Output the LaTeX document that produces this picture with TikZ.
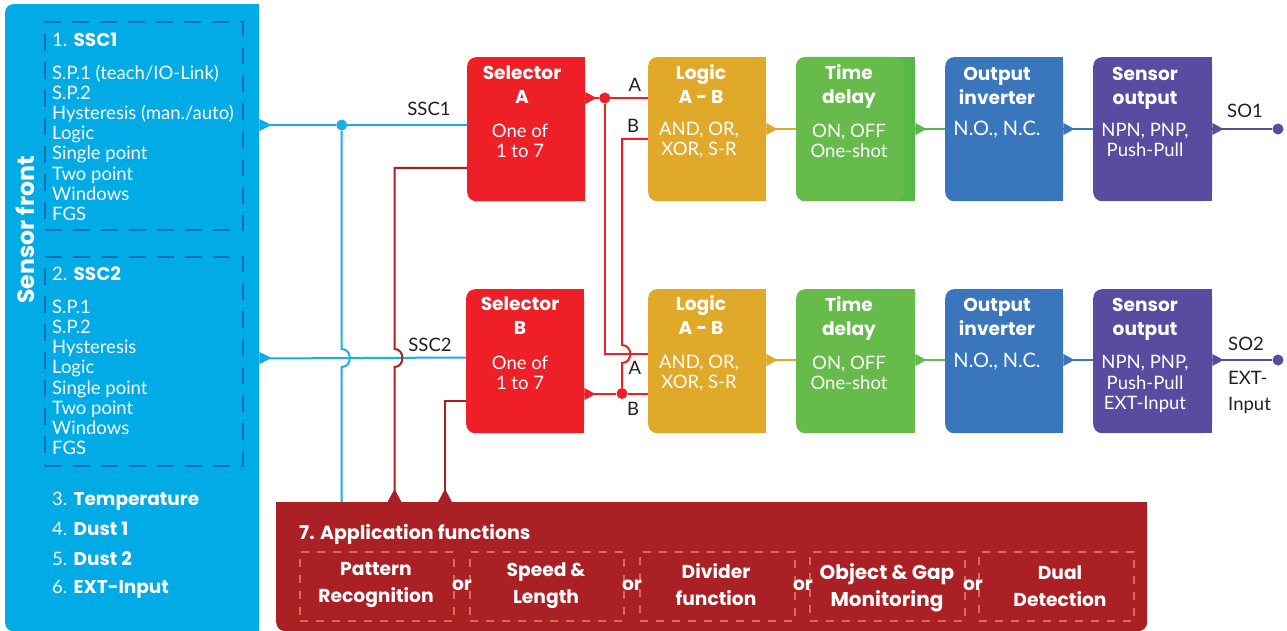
\documentclass[tikz,border=0pt]{standalone}
\usepackage{fontspec}
\usetikzlibrary{calc}
\setmainfont{Lato}
\newfontfamily\hfont{Poppins}
\definecolor{cSky}{HTML}{00ABE6}
\definecolor{cSkyLine}{HTML}{1AAFE6}
\definecolor{cSkyDash}{HTML}{0B6FB8}
\definecolor{cRed}{HTML}{EE1F26}
\definecolor{cGold}{HTML}{E0A929}
\definecolor{cGreen}{HTML}{66BB4A}
\definecolor{cGreenD}{HTML}{56B947}
\definecolor{cBlue}{HTML}{3A76BC}
\definecolor{cPurple}{HTML}{594CA0}
\definecolor{cBrick}{HTML}{AA2024}
\definecolor{cBrickDash}{HTML}{DE6B4C}
\definecolor{cInk}{HTML}{231F20}
\newcommand{\bodyf}{\fontsize{18.5}{20.1}\selectfont}
\newcommand{\headf}{\hfont\bfseries\fontsize{18.6}{24}\selectfont}
\newcommand{\appf}{\hfont\bfseries\fontsize{18.7}{27}\selectfont}
\tikzset{
  x=1pt,y=-1pt,
  blockbox/.style={anchor=north west,minimum height=144pt,inner sep=0pt,rounded corners=9pt},
  headtext/.style={text=white,align=center,font=\headf,inner sep=0pt},
  bodytext/.style={text=white,align=center,font=\bodyf,inner sep=0pt},
  listtext/.style={text=white,align=left,anchor=west,font=\bodyf,inner sep=0pt},
  labeltext/.style={text=cInk,font=\bodyf,inner sep=0pt},
  apptext/.style={text=white,align=center,font=\appf,inner sep=0pt},
  wire/.style={line width=2pt},
  dashsky/.style={draw=cSkyDash,line width=2.2pt,dash pattern=on 17pt off 11pt,anchor=north west,inner sep=0pt,minimum width=198pt},
  dashbrick/.style={draw=cBrickDash,line width=2pt,dash pattern=on 8pt off 8pt,anchor=north west,inner sep=0pt,minimum height=69pt},
  dotmark/.style={circle,inner sep=0pt,minimum size=11pt},
}
% [width], name, x, y, colour
\newcommand{\blockat}[5][118]{%
  \node[blockbox,minimum width=#1pt,fill=#5] (#2) at (#3,#4) {};
  \fill[#5] (#2.north) rectangle (#2.south east);}
% green block: lighter rounded face on a darker back
\newcommand{\greenat}[3]{%
  \node[blockbox,minimum width=119pt,fill=cGreenD] (#1) at (#2,#3) {};
  \fill[cGreenD] (#1.north) rectangle (#1.south east);
  \fill[cGreen,rounded corners=9pt] (#2,#3) rectangle ++(108,144);}
% tip on the east side of a block at height y
\newcommand{\tipeast}[3]{%
  \fill[#3] (#1.east |- 0,#2-6) -- ++(11,6) -- ++(-11,6) -- cycle;}
\newcommand{\tipnorth}[1]{%
  \fill[cBrick] (#1,502) -- ++(-7,0) -- ++(7,-13) -- ++(7,13) -- cycle;}
\begin{document}
\begin{tikzpicture}
\useasboundingbox (0,0) rectangle (1287,631);
\fill[white] (0,0) rectangle (1287,631);

% ---- panels
\node[anchor=north west,inner sep=0pt,minimum width=254pt,minimum height=627pt,fill=cSky,rounded corners=8pt] (front) at (5,4) {};
\fill[cSky] (front.north) rectangle (front.south east);
\node[anchor=north west,inner sep=0pt,minimum width=871pt,minimum height=129pt,fill=cBrick,rounded corners=9pt] (app) at (276,502) {};
\fill[cBrick] (app.north west) rectangle (app.east);

% ---- blocks
\blockat{selA}{467}{57}{cRed}
\blockat{selB}{466}{289}{cRed}
\blockat{logA}{648}{57}{cGold}
\blockat{logB}{648}{289}{cGold}
\greenat{timA}{796}{57}
\blockat[119]{timB}{796}{289}{cGreen}
\blockat{invA}{945}{57}{cBlue}
\blockat{invB}{945}{289}{cBlue}
\blockat[119]{outA}{1093}{57}{cPurple}
\blockat[119]{outB}{1093}{289}{cPurple}

% ---- tips
\fill[cSky] (front.east |- 0,119) -- ++(12,6) -- ++(-12,6) -- cycle;
\fill[cSky] (front.east |- 0,352) -- ++(12,6) -- ++(-12,6) -- cycle;
\tipeast{selA}{98}{cRed}
\tipeast{selB}{394}{cRed}
\tipeast{logA}{129}{cGold}
\tipeast{logB}{360}{cGold}
\tipeast{timA}{129}{cGreenD}
\tipeast{timB}{360}{cGreen}
\tipeast{invA}{129}{cBlue}
\tipeast{invB}{360}{cBlue}
\tipeast{outA}{129}{cPurple}
\tipeast{outB}{360}{cPurple}
\tipnorth{394.5}
\tipnorth{445}

% ---- junctions and free ends
\node[dotmark,fill=cSkyLine] (jSky) at (341.7,125) {};
\node[dotmark,fill=cRed] (jA) at (604.7,98) {};
\node[dotmark,fill=cRed] (jB) at (622,393.5) {};
\node[dotmark,fill=cPurple] (so1) at (1278,129) {};
\node[dotmark,fill=cPurple] (so2) at (1278,360) {};

% ---- sky wires
\draw[wire,cSkyLine] (front.east |- 0,125) -- (jSky) -- (selA.west |- jSky);
\draw[wire,cSkyLine] (front.east |- 0,358.5) -- (selB.west |- 0,357.5);
\draw[wire,cSkyLine] (jSky) -- (341.7,349) .. controls (352.5,349) and (352.5,367) .. (341.7,367) -- (app.north -| jSky);

% ---- brick wires
\draw[wire,cBrick] (selA.west |- 0,168) -- (394.5,168) -- (394.5,349) .. controls (405,349) and (405,367) .. (394.5,367) -- (394.5,495);
\draw[wire,cBrick] (selB.west |- 0,401) -- (445,401) -- (445,495);

% ---- red wires
\draw[wire,cRed] (selA.east |- jA) -- (jA) -- (logA.west |- jA);
\draw[wire,cRed] (jA) -- (604.7,354) -- (logB.west |- 0,354);
\draw[wire,cRed] (logA.west |- 0,139) -- (622,139) -- (622,345) .. controls (633,345) and (633,363) .. (622,363) -- (jB);
\draw[wire,cRed] (selB.east |- jB) -- (jB) -- (logB.west |- jB);

% ---- chain wires
\draw[wire,cGold] (logA.east |- 0,129) -- (timA.west |- 0,129);
\draw[wire,cGold] (logB.east |- 0,360) -- (timB.west |- 0,360);
\draw[wire,cGreenD] (timA.east |- 0,129) -- (invA.west |- 0,129);
\draw[wire,cGreen] (timB.east |- 0,360) -- (invB.west |- 0,360);
\draw[wire,cBlue] (invA.east |- 0,129) -- (outA.west |- 0,129);
\draw[wire,cBlue] (invB.east |- 0,360) -- (outB.west |- 0,360);
\draw[wire,cPurple] (outA.east |- 0,129) -- (so1);
\draw[wire,cPurple] (outB.east |- 0,360) -- (so2);

% ---- left panel
\node[dashsky,minimum height=208pt] (ssc1box) at (44,21) {};
\node[dashsky,minimum height=209pt] (ssc2box) at (44,256) {};
\node[text=white,font=\hfont\bfseries\fontsize{23.6}{26}\selectfont,rotate=90,inner sep=0pt] (frontlabel) at (25,230) {Sensor front};
\node[listtext] (t1) at (52,40) {1. \hfont\bfseries SSC1};
\node[listtext,anchor=north west] (l1) at (52,65) {S.P.1 (teach/IO-Link)\\S.P.2\\Hysteresis (man./auto)\\Logic\\Single point\\Two point\\Windows\\FGS};
\node[listtext] (t2) at (52,274) {2. \hfont\bfseries SSC2};
\node[listtext,anchor=north west] (l2) at (52,300) {S.P.1\\S.P.2\\Hysteresis\\Logic\\Single point\\Two point\\Windows\\FGS};
\node[listtext] (t3) at (52,501.5) {3. \hfont\bfseries Temperature};
\node[listtext] (t4) at (52,529) {4. \hfont\bfseries Dust 1};
\node[listtext] (t5) at (52,559) {5. \hfont\bfseries Dust 2};
\node[listtext] (t6) at (52,589.5) {6. \hfont\bfseries EXT-Input};

% ---- block texts, upper row
\node[headtext] (hSelA) at (522,85) {Selector\\A};
\node[bodytext] (bSelA) at (520,141) {One of\\1 to 7};
\node[headtext] (hLogA) at (701,84) {Logic\\A - B};
\node[bodytext] (bLogA) at (699,140) {AND, OR,\\XOR, S-R};
\node[headtext] (hTimA) at (849,87) {Time\\delay};
\node[bodytext] (bTimA) at (849,141) {ON, OFF\\One-shot};
\node[headtext] (hInvA) at (997,85.5) {Output\\inverter};
\node[bodytext,font=\fontsize{20}{22}\selectfont] (bInvA) at (997,130) {N.O., N.C.};
\node[headtext] (hOutA) at (1145,88) {Sensor\\output};
\node[bodytext] (bOutA) at (1145,140) {NPN, PNP,\\Push-Pull};
% ---- block texts, lower row
\node[headtext] (hSelB) at (520,316) {Selector\\B};
\node[bodytext] (bSelB) at (520,373) {One of\\1 to 7};
\node[headtext] (hLogB) at (701,315) {Logic\\A - B};
\node[bodytext] (bLogB) at (699,373) {AND, OR,\\XOR, S-R};
\node[headtext] (hTimB) at (849,318.5) {Time\\delay};
\node[bodytext] (bTimB) at (849,373) {ON, OFF\\One-shot};
\node[headtext] (hInvB) at (997,316.5) {Output\\inverter};
\node[bodytext,font=\fontsize{20}{22}\selectfont] (bInvB) at (997,362) {N.O., N.C.};
\node[headtext] (hOutB) at (1145,319) {Sensor\\output};
\node[bodytext] (bOutB) at (1145,384) {NPN, PNP,\\Push-Pull\\EXT-Input};

% ---- wire labels
\node[labeltext] (lSSC1) at (429,109) {SSC1};
\node[labeltext] (lSSC2) at (430,345) {SSC2};
\node[labeltext] (lA1) at (635,85) {A};
\node[labeltext] (lB1) at (633,126) {B};
\node[labeltext] (lA2) at (635,368) {A};
\node[labeltext] (lB2) at (633,409) {B};
\node[labeltext] (lSO1) at (1245,111) {SO1};
\node[labeltext] (lSO2) at (1246,344) {SO2};
\node[labeltext,align=left,anchor=north west,font=\fontsize{18.5}{26}\selectfont] (lEXT) at (1228,371) {EXT-\\Input};

% ---- application functions
\node[text=white,font=\hfont\bfseries\fontsize{19}{27}\selectfont,anchor=west,inner sep=0pt] (appTitle) at (299,534) {7. Application functions};
\node[dashbrick,minimum width=154pt] (f1) at (299,551) {};
\node[dashbrick,minimum width=154pt] (f2) at (469,551) {};
\node[dashbrick,minimum width=155pt] (f3) at (639,551) {};
\node[dashbrick,minimum width=155pt] (f4) at (809,551) {};
\node[dashbrick,minimum width=155pt] (f5) at (978,551) {};
\node[apptext] (tf1) at (376,585.5) {Pattern\\Recognition};
\node[apptext] (tf2) at (546,585.5) {Speed \&\\Length};
\node[apptext] (tf3) at (716,584.5) {Divider\\function};
\node[apptext,font=\hfont\bfseries\fontsize{20}{27}\selectfont] (tf4) at (887,588) {Object \& Gap\\Monitoring};
\node[apptext] (tf5) at (1060,586.5) {Dual\\Detection};
\node[apptext] (or1) at (462,585) {or};
\node[apptext] (or2) at (632,585) {or};
\node[apptext] (or3) at (803,585) {or};
\node[apptext] (or4) at (973,585) {or};
\end{tikzpicture}
\end{document}
